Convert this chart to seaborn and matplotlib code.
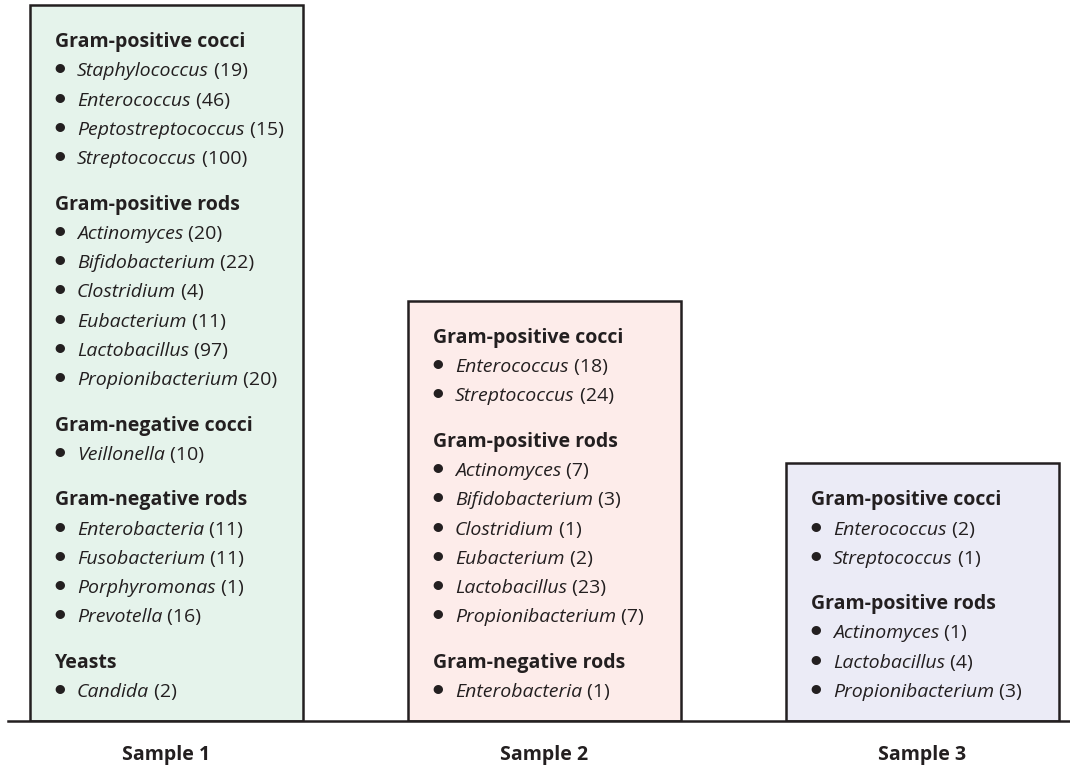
import seaborn as sns
import matplotlib.pyplot as plt

samples = ["Sample 1", "Sample 2", "Sample 3"]
fill_colors = ["#e5f3eb", "#fdecea", "#ebebf6"]

s1_groups = ["Gram-positive cocci", "Gram-positive rods", "Gram-negative cocci",
             "Gram-negative rods", "Yeasts"]
s1_genera = [["Staphylococcus", "Enterococcus", "Peptostreptococcus", "Streptococcus"],
             ["Actinomyces", "Bifidobacterium", "Clostridium", "Eubacterium",
              "Lactobacillus", "Propionibacterium"],
             ["Veillonella"],
             ["Enterobacteria", "Fusobacterium", "Porphyromonas", "Prevotella"],
             ["Candida"]]
s1_counts = [[19, 46, 15, 100], [20, 22, 4, 11, 97, 20], [10], [11, 11, 1, 16], [2]]

s2_groups = ["Gram-positive cocci", "Gram-positive rods", "Gram-negative rods"]
s2_genera = [["Enterococcus", "Streptococcus"],
             ["Actinomyces", "Bifidobacterium", "Clostridium", "Eubacterium",
              "Lactobacillus", "Propionibacterium"],
             ["Enterobacteria"]]
s2_counts = [[18, 24], [7, 3, 1, 2, 23, 7], [1]]

s3_groups = ["Gram-positive cocci", "Gram-positive rods"]
s3_genera = [["Enterococcus", "Streptococcus"],
             ["Actinomyces", "Lactobacillus", "Propionibacterium"]]
s3_counts = [[2, 1], [1, 4, 3]]

all_groups = [s1_groups, s2_groups, s3_groups]
all_genera = [s1_genera, s2_genera, s3_genera]
all_counts = [s1_counts, s2_counts, s3_counts]

# layout in "line" units (one line = one list row)
UNIT_PX = 29.3
GAP = 1.546
PAD_TOP = 1.433
PAD_BOTTOM = 0.819
BAR_W = 0.722
FS = 14
TEXT = "#231f20"


def box_height(genera):
    n_items = sum(len(g) for g in genera)
    return PAD_TOP + PAD_BOTTOM + n_items + (len(genera) - 1) * GAP


heights = [box_height(g) for g in all_genera]

sns.set_style("white")
plt.rcParams["font.family"] = ["Open Sans", "DejaVu Sans"]

fig = plt.figure(figsize=(10.7, 7.67), dpi=100)
ax = fig.add_axes([8 / 1070, 46 / 767, 1062 / 1070, 721 / 767])

sns.barplot(x=samples, y=heights, hue=samples, palette=fill_colors, saturation=1,
            width=BAR_W, edgecolor=TEXT, linewidth=1.8, legend=False, ax=ax)

ax.set_xlim(-(166.5 - 8) / 378, (1070 - 166.5) / 378)
ax.set_ylim(0, 721 / UNIT_PX)
for side in ["top", "left", "right"]:
    ax.spines[side].set_visible(False)
ax.spines["bottom"].set_color(TEXT)
ax.spines["bottom"].set_linewidth(1.8)
ax.set_yticks([])
ax.set_xlabel("")
ax.set_ylabel("")
ax.tick_params(axis="x", length=0, pad=17, colors=TEXT)
for lbl in ax.get_xticklabels():
    lbl.set_fontweight("bold")
    lbl.set_fontsize(FS)

for i, (groups, genera, counts) in enumerate(zip(all_groups, all_genera, all_counts)):
    left = i - BAR_W / 2
    x_head = left + BAR_W * 25 / 273
    x_bul = left + BAR_W * 30 / 273
    x_item = left + BAR_W * 47 / 273
    y = heights[i] - PAD_TOP
    for gi, (grp, names, nums) in enumerate(zip(groups, genera, counts)):
        if gi > 0:
            y -= GAP
        ax.text(x_head, y, grp, fontsize=FS, fontweight="bold", color=TEXT, va="baseline")
        for name, n in zip(names, nums):
            y -= 1
            ax.text(x_bul, y, "\u2022", fontsize=FS * 1.3, family="Lato", color=TEXT,
                    ha="center", va="baseline")
            t = ax.text(x_item, y, name, fontsize=FS, style="italic", color=TEXT, va="baseline")
            ax.annotate(f" ({n})", xy=(1, 0), xycoords=t, fontsize=FS, color=TEXT,
                        va="bottom", ha="left")

fig.savefig("out.png", dpi=100)
